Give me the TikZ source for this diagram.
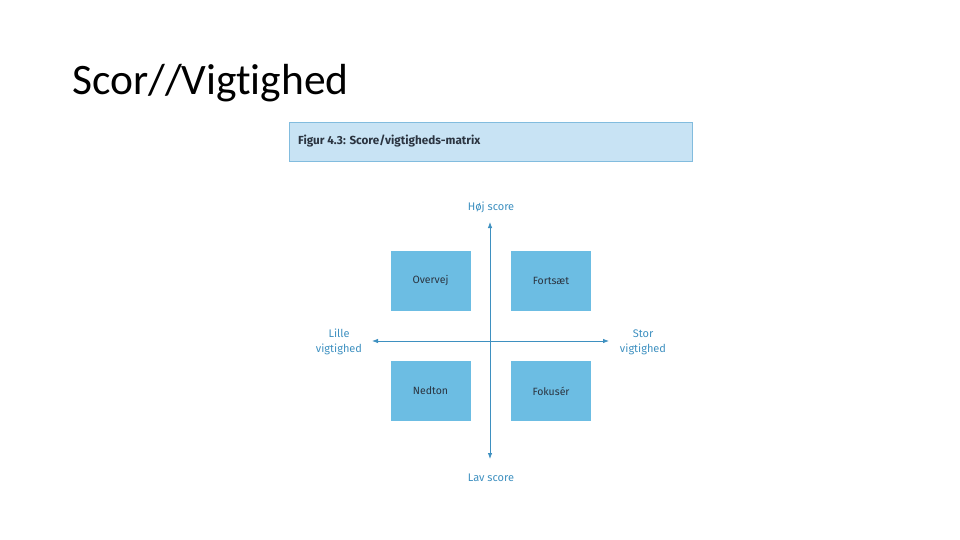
\documentclass[tikz,border=0pt]{standalone}
\usepackage{fontspec}
\setmainfont[Ligatures=NoCommon]{Carlito}
\newfontfamily\figfont{Fira Sans}
\usepackage{tikz}
\usetikzlibrary{arrows.meta, positioning}
\definecolor{cheadfill}{RGB}{200,227,244}
\definecolor{cheadline}{RGB}{130,188,222}
\definecolor{cbox}{RGB}{108,189,227}
\definecolor{caxis}{RGB}{62,144,192}
\definecolor{ctext}{RGB}{43,52,64}

\begin{document}
\begin{tikzpicture}[
    x=1pt, y=-1pt,
    every node/.style={inner sep=0pt},
    quadbox/.style={fill=cbox, minimum width=80pt, minimum height=60pt,
        font=\figfont\fontsize{10.5}{12}\selectfont, text=ctext},
    axislabel/.style={font=\figfont\fontsize{11}{15}\selectfont, text=caxis, align=center},
    axisline/.style={caxis, line width=0.8pt, -{Latex[length=6pt,width=4.5pt]}},
]
    \useasboundingbox (0,0) rectangle (960,540);

    % Title
    \node[anchor=west, font=\fontsize{43.5}{46}\selectfont] (title) at (72,83) {Scor//Vigtighed};

    % Figure header
    \node[draw=cheadline, fill=cheadfill, line width=0.8pt, minimum width=403pt,
        minimum height=39pt] (head) at (490.5,141.5) {};
    \node[anchor=west, font=\figfont\bfseries\fontsize{11.7}{13}\selectfont, text=ctext]
        (headtext) at (298,141.5) {Figur 4.3: Score/vigtigheds-matrix};

    % Axes
    \coordinate (centre) at (490,341);
    \coordinate (top) at (490,222);
    \coordinate (bottom) at (490,459);
    \coordinate (left) at (372,341);
    \coordinate (right) at (609,341);
    \draw[axisline] (centre) -- (top);
    \draw[axisline] (centre) -- (bottom);
    \draw[axisline] (centre) -- (left);
    \draw[axisline] (centre) -- (right);

    \node[axislabel] (high) at (491,207) {Høj score};
    \node[axislabel] (low) at (491,478) {Lav score};
    \node[axislabel] (small) at (339,342) {Lille\\vigtighed};
    \node[axislabel] (big) at (643,342) {Stor\\vigtighed};

    % Quadrants
    \node[quadbox] (overvej) at (430.5,281) {Overvej};
    \node[quadbox] (fortsaet) at (551,281) {Fortsæt};
    \node[quadbox] (nedton) at (430.5,391) {Nedton};
    \node[quadbox] (fokuser) at (551,391) {Fokusér};
\end{tikzpicture}
\end{document}
